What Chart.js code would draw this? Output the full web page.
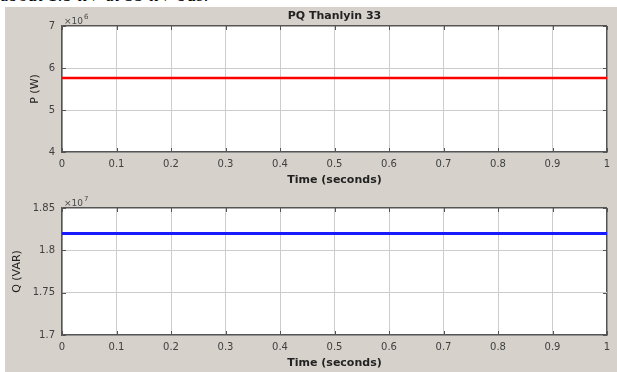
<!DOCTYPE html>
<html>
<head>
<meta charset="utf-8">
<script src="https://cdn.jsdelivr.net/npm/chart.js@4/dist/chart.umd.min.js"></script>
<style>
  html, body { margin: 0; padding: 0; background: #fff; }
  #page { position: relative; width: 617px; height: 372px; overflow: hidden; background: #fff; }
  #caption { position: absolute; left: 0; top: 0; width: 617px; height: 7px; overflow: hidden; }
  #caption span { position: absolute; left: 0; top: -14px; font: 18px/18px "Liberation Serif", serif; color: #000; white-space: nowrap; letter-spacing: 0.6px; }
  #panel { position: absolute; left: 5px; top: 7px; width: 612px; height: 365px; background: #d6d2cb; }
  canvas { position: absolute; left: 0; }
  #cP { top: 0; }
  #cQ { top: 190px; }
</style>
</head>
<body>
<div id="page">
  <div id="caption"><span>about 1.5 kV at 33 kV bus.</span></div>
  <div id="panel"></div>
  <canvas id="cP" width="617" height="190"></canvas>
  <canvas id="cQ" width="617" height="182"></canvas>
</div>
<script>
// Simulation output: active and reactive power at the Thanlyin 33 kV bus
const timeSec = [0, 1];
const pWatts = [5.76e6, 5.76e6];
const qVar = [1.82e7, 1.82e7];

// Axis ticks (y ticks are in units of 10^exp)
const timeTicks = [0, 0.1, 0.2, 0.3, 0.4, 0.5, 0.6, 0.7, 0.8, 0.9, 1];
const pTicks = [4, 5, 6, 7];
const pExp = 6;
const qTicks = [1.7, 1.75, 1.8, 1.85];
const qExp = 7;

const plotTitle = 'PQ Thanlyin 33';
const xLabel = 'Time (seconds)';

const FONT = 'DejaVu Sans';
const EDGE = '#555555';
const GRID = '#cccccc';

// White axes box, inward tick marks, exponent label and figure title
const framePlugin = {
  id: 'frame',
  beforeDraw(chart) {
    const { ctx, chartArea: a } = chart;
    ctx.save();
    ctx.fillStyle = '#ffffff';
    ctx.fillRect(a.left, a.top, a.right - a.left, a.bottom - a.top);
    ctx.restore();
  },
  beforeDatasetsDraw(chart) {
    const { ctx, chartArea: a, scales } = chart;
    ctx.save();
    ctx.strokeStyle = EDGE;
    ctx.lineWidth = 1;
    const len = 4;
    scales.x.ticks.forEach(t => {
      const x = Math.round(scales.x.getPixelForValue(t.value)) + 0.5;
      ctx.beginPath();
      ctx.moveTo(x, a.bottom); ctx.lineTo(x, a.bottom - len);
      ctx.moveTo(x, a.top); ctx.lineTo(x, a.top + len);
      ctx.stroke();
    });
    scales.y.ticks.forEach(t => {
      const y = Math.round(scales.y.getPixelForValue(t.value)) + 0.5;
      ctx.beginPath();
      ctx.moveTo(a.left, y); ctx.lineTo(a.left + len, y);
      ctx.moveTo(a.right, y); ctx.lineTo(a.right - len, y);
      ctx.stroke();
    });
    ctx.restore();
  },
  afterDraw(chart, args, opts) {
    const { ctx, chartArea: a } = chart;
    ctx.save();
    ctx.fillStyle = '#4a4a4a';
    ctx.textBaseline = 'alphabetic';
    ctx.textAlign = 'left';
    ctx.font = `9px "${FONT}"`;
    const base = '\u00d710';
    const x0 = a.left + 2;
    ctx.fillText(base, x0, a.top - 2);
    const w = ctx.measureText(base).width;
    ctx.font = `7px "${FONT}"`;
    ctx.fillText(String(opts.exp), x0 + w + 1, a.top - 7);
    if (opts.title) {
      ctx.fillStyle = '#222222';
      ctx.font = `bold 11px "${FONT}"`;
      ctx.textAlign = 'center';
      ctx.textBaseline = 'middle';
      ctx.fillText(opts.title, (a.left + a.right) / 2, 16);
    }
    ctx.restore();
  }
};

function makeChart(canvasId, cfg) {
  const yMin = cfg.ticks[0] * 10 ** cfg.exp;
  const yMax = cfg.ticks[cfg.ticks.length - 1] * 10 ** cfg.exp;
  return new Chart(document.getElementById(canvasId), {
    type: 'line',
    data: {
      datasets: [{
        data: timeSec.map((t, i) => ({ x: t, y: cfg.values[i] })),
        borderColor: cfg.color,
        borderWidth: cfg.lineWidth,
        pointRadius: 0,
        fill: false,
        tension: 0
      }]
    },
    options: {
      responsive: false,
      animation: false,
      devicePixelRatio: 1,
      layout: { padding: { top: cfg.padTop, right: 10, left: 0, bottom: 0 } },
      plugins: {
        legend: { display: false },
        tooltip: { enabled: false },
        frame: { exp: cfg.exp, title: cfg.title }
      },
      scales: {
        x: {
          type: 'linear',
          min: 0,
          max: 1,
          afterBuildTicks: s => { s.ticks = timeTicks.map(v => ({ value: v })); },
          afterFit: s => { s.height = cfg.xAxisHeight; },
          ticks: {
            padding: 6,
            maxRotation: 0,
            autoSkip: false,
            color: '#404040',
            font: { family: FONT, size: 10 },
            callback: (v, i) => String(timeTicks[i])
          },
          grid: {
            drawTicks: false,
            color: c => (c.tick && c.tick.value === 1 ? EDGE : GRID),
            lineWidth: c => (c.tick && c.tick.value === 1 ? 1.5 : 1)
          },
          border: { color: EDGE, width: 1.5 },
          title: {
            display: true,
            text: xLabel,
            color: '#222222',
            font: { family: FONT, size: 11, weight: 'bold' },
            padding: { top: 0, bottom: cfg.xTitlePad }
          }
        },
        y: {
          type: 'linear',
          min: yMin,
          max: yMax,
          afterBuildTicks: s => { s.ticks = cfg.ticks.map(v => ({ value: v * 10 ** cfg.exp })); },
          afterFit: s => { s.width = 62; },
          ticks: {
            padding: 7,
            color: '#404040',
            font: { family: FONT, size: 10 },
            callback: (v, i) => String(cfg.ticks[i])
          },
          grid: {
            drawTicks: false,
            color: c => (c.tick && c.tick.value === yMax ? EDGE : GRID),
            lineWidth: c => (c.tick && c.tick.value === yMax ? 1.5 : 1)
          },
          border: { color: EDGE, width: 1.5 },
          title: {
            display: true,
            text: cfg.yLabel,
            color: '#222222',
            font: { family: FONT, size: 11 },
            padding: { top: cfg.yLabelPad, bottom: 0 }
          }
        }
      }
    },
    plugins: [framePlugin]
  });
}

makeChart('cP', {
  values: pWatts, color: '#ff0000', lineWidth: 2.5,
  ticks: pTicks, exp: pExp, yLabel: 'P (W)', yLabelPad: 29,
  padTop: 26, xAxisHeight: 38, xTitlePad: 3.4, title: plotTitle
});

makeChart('cQ', {
  values: qVar, color: '#1a1aff', lineWidth: 3,
  ticks: qTicks, exp: qExp, yLabel: 'Q (VAR)', yLabelPad: 11,
  padTop: 18, xAxisHeight: 37, xTitlePad: 2.4, title: null
});
</script>
</body>
</html>
